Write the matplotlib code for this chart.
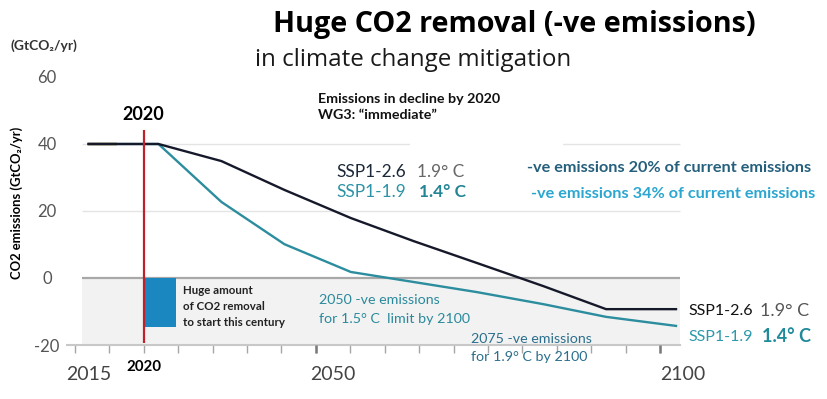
import matplotlib
matplotlib.use("Agg")
import matplotlib.pyplot as plt
from matplotlib.patches import Rectangle
import numpy as np

plt.rcParams['font.family'] = ['Lato', 'DejaVu Sans']
plt.rcParams['axes.unicode_minus'] = False
WIDE = ['Open Sans', 'DejaVu Sans']

# ---- data ----
years = [2015, 2025, 2034, 2043, 2052.5, 2061.5, 2070.5, 2080, 2089, 2099]
ssp126 = [40, 40, 34.9, 26.3, 17.9, 11.0, 4.5, -2.4, -9.3, -9.3]
ssp119 = [40, 40, 22.7, 10.1, 1.8, -1.2, -4.2, -7.8, -11.6, -14.3]
hist_years = [2015, 2019]
hist_vals = [40, 40]
marker_year = 2022.9          # red "2020" line
removal_start, removal_end, removal_depth = 2023.1, 2027.5, -14.6
ytick_vals = [-20, 0, 20, 40, 60]
xtick_years = [2015, 2050, 2100]
xtick_labels = ['2015', '2050', '2100']

W, H = 828, 399
fig = plt.figure(figsize=(W / 100, H / 100), dpi=100)


def F(x, y):
    return x / W, 1 - y / H


ax = fig.add_axes([66.7 / W, 54 / H, (690 - 66.7) / W, (345 - 60) / H])
x0, x1 = 2011.88, 2101.0
ax.set_xlim(x0, x1)
ax.set_ylim(-20, 65.07)
plot_l, plot_r = 2014.03, 2099.57

# background: negative-emissions zone, grid, zero line
ax.add_patch(Rectangle((plot_l, -20), plot_r - plot_l, 20, facecolor='#f2f2f2',
                       edgecolor='none', zorder=0))
ax.hlines([20, 40], plot_l, plot_r, color='#e4e4e4', lw=1.0, zorder=0.5)
ax.hlines(0, plot_l, plot_r, color='#a8a8a8', lw=1.6, zorder=1)
# white label boxes over the grid
ax.add_patch(Rectangle((2061.0, 21.2), 21.8, 20.6, facecolor='white', edgecolor='none', zorder=0.8))
ax.add_patch(Rectangle((2051.0, 21.2), 10.0, 17.0, facecolor='white', edgecolor='none', zorder=0.8))

# lines
ax.plot(hist_years, hist_vals, color='#c07a28', lw=2.6, alpha=0.45, zorder=2.8,
        solid_capstyle='round')
ax.plot(years, ssp119, color='#2b8d9e', lw=1.7, zorder=2.9)
ax.plot(years, ssp126, color='#16192a', lw=1.7, zorder=3)

# 2020 marker and CO2 removal bar
ax.vlines(marker_year, -19.4, 44.2, color='#c0202a', lw=1.6, zorder=4)
ax.add_patch(Rectangle((removal_start, removal_depth), removal_end - removal_start,
                       -removal_depth, facecolor='#1a87c1', edgecolor='none', zorder=3.5))

# axes styling
for s in ['top', 'right', 'left']:
    ax.spines[s].set_visible(False)
ax.spines['bottom'].set_bounds(x0, plot_r)
ax.spines['bottom'].set_color('#c8c8c8')
ax.spines['bottom'].set_linewidth(1.5)

minor_ticks = 2013.07 + 4.92 * np.arange(18)
ax.set_xticks(minor_ticks, minor=True)
ax.set_xticks(xtick_years)
ax.set_xticklabels(xtick_labels)
ax.tick_params(axis='x', which='minor', length=6, width=1, color='#a6a6a6')
ax.tick_params(axis='x', which='major', length=0, pad=15, labelsize=14, labelcolor='#444444')
ax.vlines([minor_ticks[7], minor_ticks[17]], -22.4, -20, color='#7a7a7a', lw=1.8,
          clip_on=False, zorder=5)

ax.set_yticks(ytick_vals)
ax.tick_params(axis='y', length=0, pad=14.2, labelsize=12, labelcolor='#555555')
for lbl in ax.get_yticklabels():
    lbl.set_horizontalalignment('center')

# ---- texts ----
fig.text(*F(273, 32), 'Huge CO2 removal (-ve emissions)', fontsize=20.7, fontweight='bold',
         family=WIDE, color='black', ha='left', va='baseline')
fig.text(*F(255, 66), 'in climate change mitigation', fontsize=17.4, color='#1a1a1a',
         family=WIDE, ha='left', va='baseline')
fig.text(*F(44, 46), '(GtCO₂/yr)', fontsize=10, fontweight='bold', color='#333333',
         ha='center', va='center')
fig.text(*F(17, 203), 'CO2 emissions (GtCO₂/yr)', fontsize=9.4, fontweight='bold',
         color='black', rotation=90, ha='center', va='center')
fig.text(*F(143, 115), '2020', fontsize=13, fontweight='bold', color='black',
         ha='center', va='center')
fig.text(*F(144, 367), '2020', fontsize=10.8, fontweight='bold', color='black',
         ha='center', va='center')
fig.text(*F(318, 103), 'Emissions in decline by 2020', fontsize=10.3, fontweight='bold',
         color='#111111', ha='left', va='baseline')
fig.text(*F(318, 119), 'WG3: “immediate”', fontsize=10.3, fontweight='bold',
         color='#111111', ha='left', va='baseline')

fig.text(*F(336, 177), 'SSP1-2.6', fontsize=12.4, color='#1c2838', ha='left', va='baseline')
fig.text(*F(417, 177), '1.9° C', fontsize=12.4, color='#666666', ha='left', va='baseline')
fig.text(*F(336, 197), 'SSP1-1.9', fontsize=12.4, color='#2b93a5', ha='left', va='baseline')
fig.text(*F(419, 197), '1.4° C', fontsize=12.4, fontweight='bold', color='#238494',
         ha='left', va='baseline')

fig.text(*F(527, 172), '-ve emissions 20% of current emissions', fontsize=11.7,
         fontweight='bold', color='#245f7c', ha='left', va='baseline')
fig.text(*F(531, 198), '-ve emissions 34% of current emissions', fontsize=11.7,
         fontweight='bold', color='#2aa6d0', ha='left', va='baseline')

for i, line in enumerate(['Huge amount', 'of CO2 removal', 'to start this century']):
    fig.text(*F(183, 294 + 16 * i), line, fontsize=8.3, fontweight='bold', color='#222222',
             ha='left', va='baseline')

fig.text(*F(319, 304), '2050 -ve emissions', fontsize=10.3, color='#2a8a9c', ha='left', va='baseline')
fig.text(*F(319, 323), 'for 1.5° C  limit by 2100', fontsize=10.3, color='#2a8a9c', ha='left', va='baseline')
fig.text(*F(471, 343), '2075 -ve emissions', fontsize=10.3, color='#2b6f8c', ha='left', va='baseline')
fig.text(*F(471, 361), 'for 1.9° C by 2100', fontsize=10.3, color='#2b6f8c', ha='left', va='baseline')

fig.text(*F(688, 315), 'SSP1-2.6', fontsize=11.5, color='#111111', ha='left', va='baseline')
fig.text(*F(760, 316), '1.9° C', fontsize=13, color='#555555', ha='left', va='baseline')
fig.text(*F(688, 341), 'SSP1-1.9', fontsize=11.5, color='#2a9aaa', ha='left', va='baseline')
fig.text(*F(762, 342), '1.4° C', fontsize=13, fontweight='bold', color='#1f8a99',
         ha='left', va='baseline')

fig.savefig('out.png', dpi=100)
